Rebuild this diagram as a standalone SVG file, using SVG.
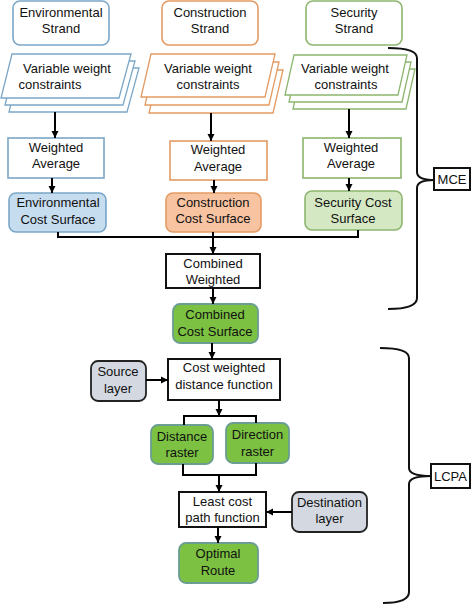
<svg xmlns="http://www.w3.org/2000/svg" width="474" height="604" viewBox="0 0 474 604">
<defs>
<marker id="ah" markerUnits="userSpaceOnUse" markerWidth="8" markerHeight="8" refX="7" refY="4" orient="auto">
<path d="M0,0.5 L7,4 L0,7.5 Z" fill="#000"/>
</marker>
<style>
text{font-family:"Liberation Sans",Arial,sans-serif;font-size:13px;fill:#111;text-anchor:middle}
.blue{stroke:#7aa7c7;stroke-width:1.6;fill:#fff}
.orange{stroke:#e39a62;stroke-width:1.6;fill:#fff}
.green{stroke:#8cb56e;stroke-width:1.6;fill:#fff}
.pb{stroke:#7aa7c7;stroke-width:1.3;fill:#fff}
.po{stroke:#e39a62;stroke-width:1.3;fill:#fff}
.pg{stroke:#8cb56e;stroke-width:1.3;fill:#fff}
.bfill{fill:#c6dcef}
.ofill{fill:#f7c3a1}
.gfill{fill:#d5e8c4}
.bright{fill:#7cc142;stroke:#6b9d93;stroke-width:1.8}
.gray{fill:#d4d9e1;stroke:#222;stroke-width:1.8}
.blk{fill:#fff;stroke:#111;stroke-width:2}
.con{stroke:#000;stroke-width:2;fill:none}
.brace{stroke:#111;stroke-width:2;fill:none}
</style>
</defs>

<g id="env-strand"><rect class="blue" x="13" y="1" width="96" height="44" rx="7"/><text x="61" y="17">Environmental</text><text x="61" y="33">Strand</text></g>
<g id="con-strand"><rect class="orange" x="162" y="1" width="96" height="44" rx="7"/><text x="210" y="17">Construction</text><text x="210" y="33">Strand</text></g>
<g id="sec-strand"><rect class="green" x="306" y="1" width="96" height="44" rx="7"/><text x="354" y="17">Security</text><text x="354" y="33">Strand</text></g>

<g id="env-vwc">
<polygon class="pb" points="20,68 139,68 127,112 9,112"/>
<polygon class="pb" points="16,61 135,61 123,105 5,105"/>
<polygon class="pb" points="12,54 131,54 119,98 1,98"/>
<text x="67" y="73">Variable weight</text><text x="50" y="89">constraints</text>
</g>
<g id="con-vwc">
<polygon class="po" points="159,70 283,70 273,113 149,113"/>
<polygon class="po" points="155,62 279,62 269,105 145,105"/>
<polygon class="po" points="151,54 275,54 265,97 141,97"/>
<text x="208" y="73">Variable weight</text><text x="208" y="89">constraints</text>
</g>
<g id="sec-vwc">
<polygon class="pg" points="302,69 415,69 406,109 293,109"/>
<polygon class="pg" points="298,62 411,62 402,102 289,102"/>
<polygon class="pg" points="294,55 407,55 398,95 285,95"/>
<text x="345" y="73">Variable weight</text><text x="346" y="89">constraints</text>
</g>

<g id="env-wa"><rect class="blue" x="8" y="138" width="96" height="40"/><text x="56" y="152">Weighted</text><text x="56" y="168">Average</text></g>
<g id="con-wa"><rect class="orange" x="170" y="141" width="97" height="39"/><text x="218" y="154">Weighted</text><text x="218" y="171">Average</text></g>
<g id="sec-wa"><rect class="green" x="303" y="138" width="98" height="40"/><text x="351" y="152">Weighted</text><text x="351" y="168">Average</text></g>

<g id="env-cs"><rect class="blue bfill" x="9" y="193" width="97" height="39" rx="7"/><text x="58" y="207">Environmental</text><text x="58" y="224">Cost Surface</text></g>
<g id="con-cs"><rect class="orange ofill" x="166" y="193" width="95" height="39" rx="7"/><text x="213" y="207">Construction</text><text x="213" y="223">Cost Surface</text></g>
<g id="sec-cs"><rect class="green gfill" x="305" y="191" width="97" height="39" rx="7"/><text x="353" y="207">Security Cost</text><text x="353" y="223">Surface</text></g>

<g id="combined-weighted"><rect class="blk" x="166" y="254" width="94" height="34"/><text x="213" y="268">Combined</text><text x="213" y="284">Weighted</text></g>
<g id="combined-cs"><rect class="bright" x="173" y="304" width="85" height="39" rx="7"/><text x="215" y="319">Combined</text><text x="215" y="336">Cost Surface</text></g>

<g id="source"><rect class="gray" x="91" y="361" width="55" height="40" rx="7"/><text x="118" y="376">Source</text><text x="118" y="393">layer</text></g>
<g id="cwdf"><rect class="blk" x="168" y="359" width="112" height="41"/><text x="224" y="372">Cost weighted</text><text x="224" y="389">distance function</text></g>

<g id="distance"><rect class="bright" x="151" y="425" width="62" height="39" rx="7"/><text x="182" y="441">Distance</text><text x="182" y="457">raster</text></g>
<g id="direction"><rect class="bright" x="226" y="423" width="63" height="40" rx="7"/><text x="257.5" y="439">Direction</text><text x="257.5" y="456">raster</text></g>

<g id="lcp"><rect class="blk" x="179" y="492" width="87" height="35"/><text x="222.5" y="506">Least cost</text><text x="222.5" y="522">path function</text></g>
<g id="destination"><rect class="gray" x="292" y="492" width="75" height="40" rx="7"/><text x="329.5" y="507">Destination</text><text x="329.5" y="523">layer</text></g>
<g id="optimal"><rect class="bright" x="179" y="543" width="79" height="40" rx="7"/><text x="218" y="558">Optimal</text><text x="218" y="575">Route</text></g>

<g id="mce"><rect class="blk" x="434" y="168" width="36" height="22" stroke-width="1.6"/><text x="452" y="184">MCE</text></g>
<g id="lcpa"><rect class="blk" x="431" y="464" width="39" height="24" stroke-width="1.6"/><text x="450.5" y="481">LCPA</text></g>

<g id="connectors">
<line class="con" x1="55" y1="112" x2="55" y2="138" marker-end="url(#ah)"/>
<line class="con" x1="211" y1="113" x2="211" y2="141" marker-end="url(#ah)"/>
<line class="con" x1="349" y1="109" x2="349" y2="138" marker-end="url(#ah)"/>
<line class="con" x1="52" y1="178" x2="52" y2="193" marker-end="url(#ah)"/>
<line class="con" x1="214" y1="180" x2="214" y2="193" marker-end="url(#ah)"/>
<line class="con" x1="349" y1="178" x2="349" y2="191" marker-end="url(#ah)"/>
<polyline class="con" points="58,232 58,237 358,237 358,230"/>
<line class="con" x1="213" y1="232" x2="213" y2="254" marker-end="url(#ah)"/>
<line class="con" x1="213" y1="288" x2="213" y2="304" marker-end="url(#ah)"/>
<line class="con" x1="212" y1="343" x2="212" y2="359" marker-end="url(#ah)"/>
<line class="con" x1="146" y1="380" x2="168" y2="380" marker-end="url(#ah)"/>
<line class="con" x1="219" y1="400" x2="219" y2="416" marker-end="url(#ah)"/>
<polyline class="con" points="184,425 184,416 256,416 256,423"/>
<polyline class="con" points="183,464 183,475 256,475 256,463"/>
<line class="con" x1="219" y1="475" x2="219" y2="492" marker-end="url(#ah)"/>
<line class="con" x1="292" y1="512" x2="266" y2="512" marker-end="url(#ah)"/>
<line class="con" x1="218" y1="527" x2="218" y2="543" marker-end="url(#ah)"/>
<path class="brace" d="M388,48 Q417,48 417,58 L417,172 Q417,180 434,180 Q417,180 417,188 L417,298 Q417,309 388,309"/>
<path class="brace" d="M380,348 Q409,348 409,358 L409,468 Q409,476 431,476 Q409,476 409,484 L409,592 Q409,603 383,603"/>
</g>
</svg>
